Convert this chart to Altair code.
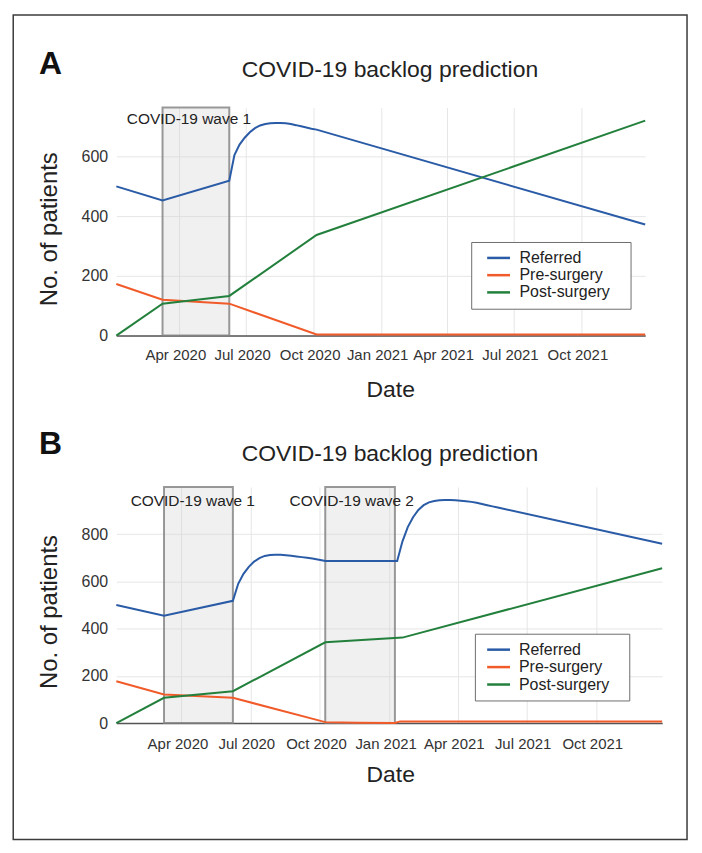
import altair as alt
import pandas as pd

FONT = "Liberation Sans"
SERIES = ["Referred", "Pre-surgery", "Post-surgery"]
COLORS = ["#2a5ba6", "#f15a29", "#23803c"]
TITLE = "COVID-19 backlog prediction"
X_TITLE = "Date"
Y_TITLE = "No. of patients"
TICK_DATES = ["2020-04-01", "2020-07-01", "2020-10-01", "2021-01-01",
              "2021-04-01", "2021-07-01", "2021-10-01"]
X_START = "2020-01-06"
X_END = "2021-12-27"

# ---------------- Panel A ----------------
A_ref_dates = ["2020-01-06", "2020-03-09", "2020-06-08", "2020-06-15", "2020-06-22",
               "2020-06-29", "2020-07-06", "2020-07-13", "2020-07-20", "2020-07-27",
               "2020-08-03", "2020-08-10", "2020-08-17", "2020-08-24", "2020-08-31",
               "2020-09-07", "2020-09-14", "2020-09-21", "2020-09-28", "2020-10-05",
               "2021-12-27"]
A_ref_vals = [500, 453, 519, 605, 640, 663, 681, 695, 704, 709,
              711.5, 712.5, 712, 711, 708.5, 705, 701, 697, 693, 690, 372]
A_pre_dates = ["2020-01-06", "2020-03-09", "2020-06-08", "2020-10-05", "2021-12-27"]
A_pre_vals = [173, 120, 107, 4, 4]
A_post_dates = ["2020-01-06", "2020-03-09", "2020-06-08", "2020-10-05", "2021-12-27"]
A_post_vals = [0, 107, 133, 337, 720]
A_wave_start = ["2020-03-09"]
A_wave_end = ["2020-06-08"]
A_wave_label_date = ["2020-04-14"]
A_wave_label = ["COVID-19 wave 1"]
A_yticks = [0, 200, 400, 600]

# ---------------- Panel B ----------------
B_ref_dates = ["2020-01-06", "2020-03-09", "2020-06-08", "2020-06-15", "2020-06-22",
               "2020-06-29", "2020-07-06", "2020-07-13", "2020-07-20", "2020-07-27",
               "2020-08-03", "2020-08-10", "2020-08-17", "2020-08-24", "2020-08-31",
               "2020-09-07", "2020-09-14", "2020-09-21", "2020-09-28", "2020-10-05",
               "2020-10-08", "2021-01-11", "2021-01-18", "2021-01-25", "2021-02-01",
               "2021-02-08", "2021-02-15", "2021-02-22", "2021-03-01", "2021-03-08",
               "2021-03-15", "2021-03-22", "2021-03-29", "2021-04-05", "2021-04-12",
               "2021-04-19", "2021-04-26", "2021-05-03", "2021-05-10", "2021-05-17",
               "2021-05-24", "2021-12-27"]
B_ref_vals = [500, 455, 518, 590, 632, 662, 684, 699, 708, 712,
              713, 713, 711, 709, 706, 703, 700, 697, 693, 689,
              687, 687, 770, 830, 872, 903, 923, 935, 941, 944,
              945, 945, 944, 942, 940, 937, 933, 928, 923, 918,
              913, 760]
B_pre_dates = ["2020-01-06", "2020-03-09", "2020-06-08", "2020-10-08", "2020-11-20",
               "2021-01-08", "2021-01-15", "2021-12-27"]
B_pre_vals = [177, 121, 107, 4, 1.5, 0, 7, 7]
B_post_dates = ["2020-01-06", "2020-03-09", "2020-06-08", "2020-10-08", "2021-01-18",
                "2021-12-27"]
B_post_vals = [0, 107, 135, 342, 362, 656]
B_wave_start = ["2020-03-09", "2020-10-08"]
B_wave_end = ["2020-06-08", "2021-01-08"]
B_wave_label_date = ["2020-04-16", "2020-11-12"]
B_wave_label = ["COVID-19 wave 1", "COVID-19 wave 2"]
B_yticks = [0, 200, 400, 600, 800]


def ts(s):
    return s + "T00:00:00"


def dt(s):
    y, m, d = (int(p) for p in s.split("-"))
    return alt.DateTime(year=y, month=m, date=d)


def lines_frame(groups):
    rows = []
    for name, dates, vals in groups:
        for d, v in zip(dates, vals):
            rows.append({"date": ts(d), "value": v, "series": name})
    return pd.DataFrame(rows)


def waves_frame(starts, ends, ldates, labels):
    return pd.DataFrame({
        "start": [ts(s) for s in starts],
        "end": [ts(e) for e in ends],
        "label_date": [ts(d) for d in ldates],
        "label": labels,
    })


def panel(letter, ldf, wdf, width, height, ymax, yticks, lg, title_y, letter_y,
          xlab_pad, xtitle_y, ytitle_y, wave_label_y, border=None):
    xs = alt.Scale(domain=[dt(X_START), dt(X_END)])
    ys = alt.Scale(domain=[0, ymax], nice=False)
    xaxis = alt.Axis(values=[dt(t) for t in TICK_DATES], format="%b %Y",
                     labelFlush=False, labelOverlap=False, grid=True, ticks=False,
                     tickSize=0, domain=True, domainColor="#555555", domainWidth=1.5,
                     labelPadding=xlab_pad, labelFontSize=15, labelOffset=-4,
                     titleFontSize=23, titleX=275, titleY=xtitle_y,
                     titleBaseline="alphabetic", titleFontWeight="normal")
    yaxis = alt.Axis(values=yticks, grid=True, ticks=False, tickSize=0, domain=False,
                     labelPadding=8.7, labelFontSize=16, titleFontSize=24,
                     titleX=-60, titleY=ytitle_y, titleBaseline="alphabetic",
                     titleAngle=270, titleAlign="center", titleFontWeight="normal")
    X = lambda f: alt.X(f, scale=xs, axis=xaxis, title=X_TITLE)

    rects = alt.Chart(wdf).mark_rect(
        fill="#d4d4d4", fillOpacity=0.35, stroke="#808080", strokeOpacity=0.8,
        strokeWidth=2
    ).encode(x=X("start:T"), x2="end:T", y=alt.value(0), y2=alt.value(height))

    lines = alt.Chart(ldf).mark_line(strokeWidth=2).encode(
        x=X("date:T"),
        y=alt.Y("value:Q", scale=ys, axis=yaxis, title=Y_TITLE),
        color=alt.Color("series:N", scale=alt.Scale(domain=SERIES, range=COLORS),
                        legend=alt.Legend(**lg)),
    )

    wl = alt.Chart(wdf).mark_text(
        fontSize=15.5, font=FONT, color="#222222", baseline="alphabetic", align="center"
    ).encode(x=X("label_date:T"), y=alt.value(wave_label_y), text="label:N")

    one = pd.DataFrame({"k": [0]})
    ttl = alt.Chart(one).mark_text(
        text=TITLE, fontSize=23, font=FONT, color="#222222", align="center",
        baseline="alphabetic"
    ).encode(x=alt.value(274.7), y=alt.value(title_y))
    let = alt.Chart(one).mark_text(
        text=letter, fontSize=32, font=FONT, fontWeight="bold", color="#111111",
        align="left", baseline="alphabetic"
    ).encode(x=alt.value(-77.7), y=alt.value(letter_y))

    layers = [rects, lines, wl, ttl, let]
    if border is not None:
        layers.append(
            alt.Chart(one).mark_rect(fill="transparent", stroke="#3c3c3c",
                                     strokeWidth=1.5).encode(
                x=alt.value(border[0]), x2=alt.value(border[1]),
                y=alt.value(border[2]), y2=alt.value(border[3]))
        )
    return alt.layer(*layers).properties(width=width, height=height)


# an invisible trailing character widens the legend box on the right
NB = "\u2800"
legend_common = dict(orient="none", title=None, symbolType="M-1.7,0H1.7",
                     symbolSize=182, symbolStrokeWidth=2.5, labelFontSize=16,
                     labelFont=FONT, labelColor="#222222", strokeColor="#6e6e6e",
                     fillColor="white", labelExpr="datum.label + '" + NB + "'")
lgA = dict(legend_common, legendX=356.3, legendY=135, padding=8,
           symbolOffset=11.5, labelOffset=13, rowPadding=1.3)
lgB = dict(legend_common, legendX=360, legendY=147.3, padding=8,
           symbolOffset=7.8, labelOffset=12.5, rowPadding=1.5)

dfA = lines_frame([("Referred", A_ref_dates, A_ref_vals),
                   ("Pre-surgery", A_pre_dates, A_pre_vals),
                   ("Post-surgery", A_post_dates, A_post_vals)])
dfB = lines_frame([("Referred", B_ref_dates, B_ref_vals),
                   ("Pre-surgery", B_pre_dates, B_pre_vals),
                   ("Post-surgery", B_post_dates, B_post_vals)])
wA = waves_frame(A_wave_start, A_wave_end, A_wave_label_date, A_wave_label)
wB = waves_frame(B_wave_start, B_wave_end, B_wave_label_date, B_wave_label)

panelA = panel("A", dfA, wA, 531, 229, 764, A_yticks, lgA, title_y=-30.7,
               letter_y=-33.3, xlab_pad=12, xtitle_y=60.7, ytitle_y=121.7,
               wave_label_y=17, border=(-103.5, 573, -93, 735))
panelB = panel("B", dfB, wB, 548, 237, 1000, B_yticks, lgB, title_y=-26,
               letter_y=-32.7, xlab_pad=13.5, xtitle_y=59, ytitle_y=125,
               wave_label_y=19)

chart = alt.vconcat(panelA, panelB, spacing=152, bounds="flush").resolve_scale(
    x="independent", y="independent", color="independent"
).properties(
    padding={"left": 3.75, "top": 3.25, "right": 5, "bottom": 5},
    background="white",
).configure_view(stroke="transparent").configure_axis(
    gridColor="#e6e6e6", gridWidth=1, labelColor="#333333", titleColor="#222222",
    labelFont=FONT, titleFont=FONT
).configure_text(font=FONT)

chart.save("out.html", embed_options={"renderer": "svg", "actions": False})
